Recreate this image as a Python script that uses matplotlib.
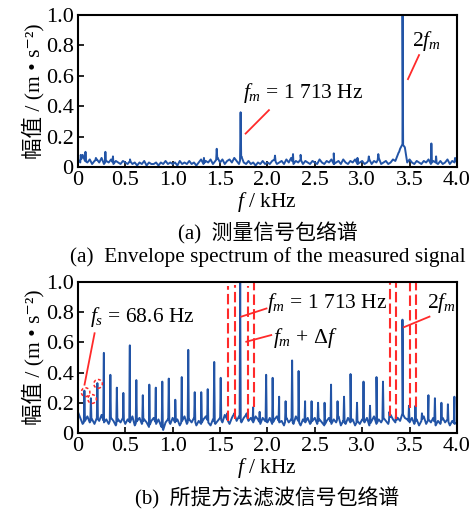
import numpy as np
import matplotlib
matplotlib.use("Agg")
import matplotlib.pyplot as plt
from matplotlib.patches import Ellipse

FAMS = ['Liberation Serif', 'Noto Sans CJK SC', 'DejaVu Serif']
plt.rcParams['font.family'] = FAMS
plt.rcParams['mathtext.fontset'] = 'custom'
plt.rcParams['mathtext.rm'] = 'Liberation Serif'
plt.rcParams['mathtext.it'] = 'Liberation Serif:italic'
plt.rcParams['mathtext.bf'] = 'Liberation Serif:bold'

# ---------------- data ----------------
grid_f = np.linspace(0, 4.0, 161)  # kHz, 25 Hz steps

noise_a = [
    0.05, 0.03, 0.08, 0.04, 0.03, 0.05, 0.02, 0.04, 0.05, 0.03, 0.06, 0.02, 0.04, 0.03, 0.05, 0.02, 0.04, 0.03, 0.02, 0.04,
    0.03, 0.02, 0.04, 0.02, 0.03, 0.01, 0.03, 0.02, 0.04, 0.01, 0.03, 0.02, 0.02, 0.03, 0.01, 0.03, 0.02, 0.04, 0.02, 0.03,
    0.02, 0.03, 0.01, 0.04, 0.02, 0.03, 0.02, 0.04, 0.02, 0.03, 0.01, 0.03, 0.05, 0.02, 0.04, 0.03, 0.05, 0.02, 0.04, 0.06,
    0.03, 0.05, 0.02, 0.04, 0.05, 0.03, 0.06, 0.04, 0.02, 0.07, 0.03, 0.02, 0.04, 0.02, 0.03, 0.01, 0.03, 0.02, 0.04, 0.02,
    0.03, 0.02, 0.04, 0.05, 0.02, 0.03, 0.04, 0.02, 0.05, 0.03, 0.06, 0.02, 0.04, 0.03, 0.05, 0.02, 0.04, 0.03, 0.02, 0.04,
    0.03, 0.02, 0.05, 0.03, 0.02, 0.04, 0.03, 0.05, 0.02, 0.03, 0.04, 0.02, 0.05, 0.03, 0.02, 0.04, 0.03, 0.05, 0.02, 0.03,
    0.04, 0.02, 0.03, 0.05, 0.02, 0.04, 0.03, 0.06, 0.02, 0.03, 0.04, 0.02, 0.03, 0.05, 0.04, 0.08, 0.12, 0.15, 0.13, 0.03,
    0.05, 0.03, 0.02, 0.04, 0.03, 0.02, 0.04, 0.03, 0.05, 0.02, 0.04, 0.03, 0.02, 0.04, 0.02, 0.03, 0.05, 0.02, 0.04, 0.03,
    0.06,
]
peaks_a_f = [0.03, 0.08, 0.19, 0.29, 0.37, 0.55, 1.33, 1.465, 1.65, 1.717, 2.08, 2.27, 2.35,
             2.70, 2.95, 3.07, 3.17, 3.39, 3.426, 3.73, 3.78, 3.98]
peaks_a_amp = [0.08, 0.10, 0.06, 0.10, 0.07, 0.05, 0.06, 0.12, 0.06, 0.36, 0.075, 0.085, 0.08,
               0.09, 0.06, 0.07, 0.085, 0.10, 1.00, 0.155, 0.07, 0.06]

noise_b = [
    0.14, 0.10, 0.06, 0.08, 0.11, 0.07, 0.09, 0.06, 0.10, 0.08, 0.12, 0.07, 0.09, 0.06, 0.10, 0.08, 0.05, 0.09, 0.07, 0.10,
    0.06, 0.09, 0.07, 0.11, 0.05, 0.08, 0.10, 0.06, 0.09, 0.07, 0.04, 0.08, 0.10, 0.06, 0.09, 0.05, 0.02, 0.07, 0.09, 0.06,
    0.10, 0.07, 0.09, 0.05, 0.08, 0.11, 0.06, 0.09, 0.07, 0.10, 0.05, 0.08, 0.06, 0.09, 0.11, 0.07, 0.05, 0.09, 0.06, 0.08,
    0.10, 0.07, 0.12, 0.09, 0.06, 0.10, 0.13, 0.08, 0.11, 0.07, 0.10, 0.12, 0.08, 0.10, 0.07, 0.11, 0.09, 0.06, 0.10, 0.08,
    0.07, 0.10, 0.06, 0.09, 0.11, 0.07, 0.08, 0.05, 0.10, 0.07, 0.09, 0.06, 0.11, 0.08, 0.05, 0.09, 0.07, 0.10, 0.06, 0.08,
    0.10, 0.06, 0.09, 0.07, 0.05, 0.08, 0.10, 0.06, 0.09, 0.07, 0.11, 0.05, 0.08, 0.06, 0.10, 0.07, 0.09, 0.05, 0.08, 0.06,
    0.09, 0.07, 0.10, 0.05, 0.08, 0.11, 0.06, 0.09, 0.07, 0.10, 0.08, 0.06, 0.12, 0.09, 0.07, 0.10, 0.08, 0.13, 0.10, 0.09,
    0.07, 0.10, 0.06, 0.09, 0.05, 0.08, 0.11, 0.06, 0.09, 0.07, 0.10, 0.05, 0.08, 0.06, 0.10, 0.07, 0.09, 0.05, 0.08, 0.06,
    0.07,
]
fs_khz = 0.0685  # shaft-rate spacing of the harmonics
harm_k = list(range(1, 59))
harm_amp = [0.28, 0.23, 0.33, 0.53, 0.385, 0.30, 0.265, 0.58, 0.35, 0.25,
            0.32, 0.30, 0.34, 0.36, 0.22, 0.37, 0.55, 0.27, 0.27, 0.29,
            0.47, 0.365, 0.13, 0.12, 1.00, 0.13, 0.17, 0.14, 0.385, 0.365,
            0.24, 0.21, 0.48, 0.41, 0.21, 0.21, 0.20, 0.20, 0.32, 0.21,
            0.24, 0.39, 0.20, 0.34, 0.18, 0.37, 0.34, 0.14, 0.12, 0.75,
            0.18, 0.18, 0.13, 0.25, 0.23, 0.20, 0.19, 0.24]

dash_f = [1.586, 1.657, 1.797, 1.861, 3.289, 3.360, 3.500, 3.571]
dash_lo = [0.08, 0.09, 0.09, 0.17, 0.11, 0.09, 0.165, 0.175]
dash_hi = [0.97, 0.98, 0.97, 1.00, 0.99, 1.00, 0.99, 1.00]

circ_f = [0.081, 0.150, 0.213]
circ_amp = [0.27, 0.225, 0.325]

xticks = [0, 0.5, 1.0, 1.5, 2.0, 2.5, 3.0, 3.5, 4.0]
xtick_labels = ['0', '0.5', '1.0', '1.5', '2.0', '2.5', '3.0', '3.5', '4.0']
yticks = [0, 0.2, 0.4, 0.6, 0.8, 1.0]
ytick_labels = ['0', '0.2', '0.4', '0.6', '0.8', '1.0']

BLUE = '#2254a6'
RED = '#ff2a2a'


def spectrum(noise, pf, pa):
    noise = np.asarray(noise, float)
    pf = np.asarray(pf, float)
    pa = np.asarray(pa, float)
    d = 0.006
    sh_l = pf - d
    sh_r = pf + d
    f = np.concatenate([grid_f, pf, sh_l, sh_r])
    a = np.concatenate([noise, pa, np.interp(sh_l, grid_f, noise), np.interp(sh_r, grid_f, noise)])
    o = np.argsort(f, kind='stable')
    f, a = f[o], a[o]
    m = (f >= 0) & (f <= 4.0)
    return f[m], a[m]


fig = plt.figure(figsize=(4.75, 5.14), dpi=100)
ax1 = fig.add_axes([0.164, 0.675, 0.798, 0.296])
ax2 = fig.add_axes([0.164, 0.1576, 0.798, 0.294])

TFS = 16
FS = 15.5


def style(ax):
    ax.set_xlim(0, 4.0)
    ax.set_ylim(0, 1.0)
    ax.set_xticks(xticks)
    ax.set_xticklabels(xtick_labels)
    ax.set_yticks(yticks)
    ax.set_yticklabels(ytick_labels)
    ax.tick_params(direction='in', length=4, width=1.2, labelsize=TFS, pad=3)
    for s in ax.spines.values():
        s.set_linewidth(1.5)
    ax.set_xlabel(r'$f$ / kHz', fontsize=FS, labelpad=0)
    ax.set_ylabel('幅值 / (m • s⁻²)', fontsize=FS, labelpad=1, family=FAMS)


# top panel
fa, aa = spectrum(noise_a, peaks_a_f, peaks_a_amp)
ax1.plot(fa, aa, color=BLUE, lw=1.4)
style(ax1)
ax1.plot([1.77, 2.016], [0.22, 0.374], color=RED, lw=1.3)
ax1.text(1.74, 0.484, r'$f_m$ = 1 713 Hz', fontsize=FS, va='center', ha='left')
ax1.plot([3.483, 3.60], [0.578, 0.736], color=RED, lw=1.3)
ax1.text(3.53, 0.83, r'$2f_m$', fontsize=FS, va='center', ha='left')

# bottom panel
hf = [k * fs_khz for k in harm_k]
fb, ab = spectrum(noise_b, hf, harm_amp)
ax2.plot(fb, ab, color=BLUE, lw=1.4)
style(ax2)
for x, lo, hi in zip(dash_f, dash_lo, dash_hi):
    ax2.plot([x, x], [lo, hi], color=RED, lw=1.5, ls=(0, (5, 2)))
for x, y in zip(circ_f, circ_amp):
    ax2.add_patch(Ellipse((x, y), 0.09, 0.058, fill=False, ec=RED, lw=1.1, ls=(0, (2, 1.5)), zorder=3))
ax2.plot([0.07, 0.176], [0.32, 0.66], color=RED, lw=1.3)
ax2.text(0.125, 0.77, r'$f_s$ = 68.6 Hz', fontsize=FS, va='center', ha='left')
ax2.plot([1.724, 1.99], [0.77, 0.824], color=RED, lw=1.3)
ax2.text(1.995, 0.86, r'$f_m$ = 1 713 Hz', fontsize=FS, va='center', ha='left')
ax2.plot([1.777, 2.04], [0.604, 0.648], color=RED, lw=1.3)
ax2.text(2.06, 0.63, r'$f_m$ + $\Delta f$', fontsize=FS, va='center', ha='left')
ax2.plot([3.44, 3.71], [0.70, 0.77], color=RED, lw=1.3)
ax2.text(3.68, 0.86, r'$2f_m$', fontsize=FS, va='center', ha='left')

# captions (centred on the axes)
cx = 0.164 + 0.798 / 2
fig.text(cx, 1 - 233 / 514, '(a)  测量信号包络谱', fontsize=15, ha='center', va='center', family=FAMS)
fig.text(cx, 1 - 257 / 514, '(a)  Envelope spectrum of the measured signal', fontsize=15.3, ha='center', va='center')
fig.text(cx, 1 - 498 / 514, '(b)  所提方法滤波信号包络谱', fontsize=15, ha='center', va='center', family=FAMS)

fig.savefig('out.png', dpi=100)
